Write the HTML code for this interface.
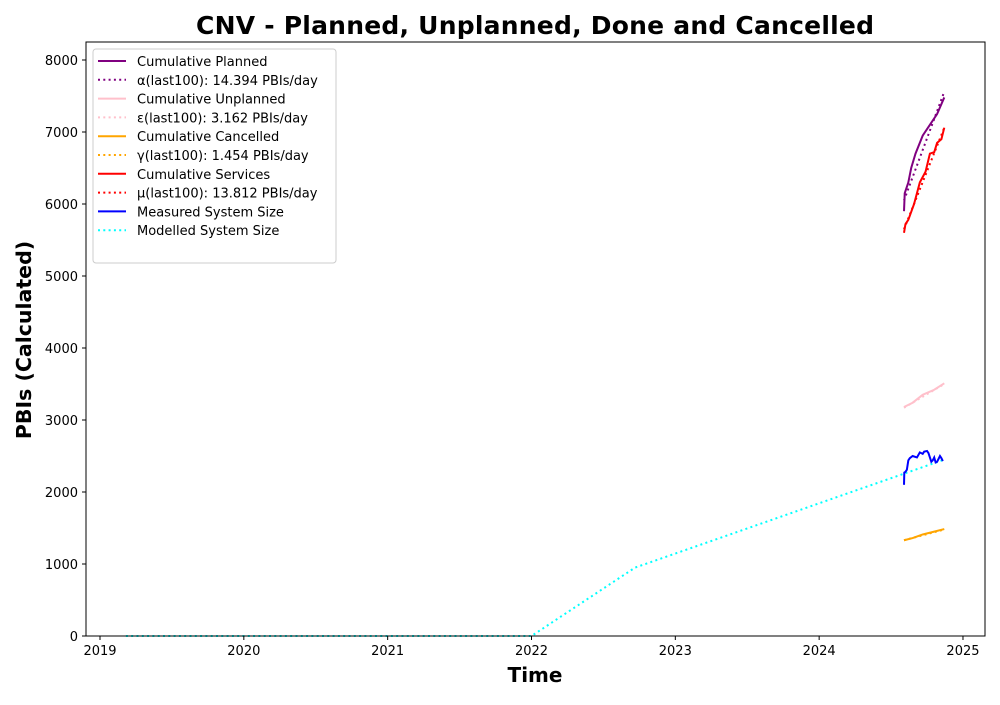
<!DOCTYPE html>
<html><head><meta charset="utf-8"><style>
body{margin:0;background:#fff;font-family:"Liberation Sans","DejaVu Sans",sans-serif}
svg text{font-family:"DejaVu Sans","Liberation Sans",sans-serif}
</style></head><body>
<svg id="c" width="1000" height="700" xmlns="http://www.w3.org/2000/svg">
<rect width="1000" height="700" fill="#fff"/>
<text x="535" y="34" font-size="25" font-weight="bold" text-anchor="middle" textLength="678">CNV - Planned, Unplanned, Done  and Cancelled</text>
<text x="535" y="682" font-size="20" font-weight="bold" text-anchor="middle">Time</text>
<text transform="translate(31,340) rotate(-90)" font-size="20.5" font-weight="bold" text-anchor="middle">PBIs (Calculated)</text>
<g id="marks"></g>
<rect x="86" y="42" width="899" height="594" fill="none" stroke="#000" stroke-width="1"/>
<g id="axes"></g>
<g id="legend"></g>
</svg>
<script>
const xTicks=[2019,2020,2021,2022,2023,2024,2025];
const yTicks=[0,1000,2000,3000,4000,5000,6000,7000,8000];
const plannedT=[2024.59,2024.595,2024.62,2024.64,2024.67,2024.72,2024.77,2024.82,2024.87];
const plannedV=[5900,6150,6300,6500,6700,6950,7100,7250,7480];
const alphaT=[2024.59,2024.87];
const alphaV=[6050,7560];
const unplannedT=[2024.59,2024.65,2024.72,2024.8,2024.87];
const unplannedV=[3180,3240,3350,3420,3510];
const epsT=[2024.59,2024.87];
const epsV=[3170,3500];
const cancelledT=[2024.59,2024.65,2024.72,2024.8,2024.87];
const cancelledV=[1330,1360,1410,1450,1485];
const gammaT=[2024.59,2024.87];
const gammaV=[1330,1480];
const servicesT=[2024.59,2024.6,2024.62,2024.66,2024.7,2024.74,2024.77,2024.8,2024.82,2024.85,2024.87];
const servicesV=[5600,5720,5780,6000,6300,6450,6700,6720,6850,6900,7060];
const muT=[2024.59,2024.87];
const muV=[5650,7060];
const measuredT=[2024.59,2024.592,2024.6,2024.61,2024.62,2024.63,2024.65,2024.68,2024.7,2024.72,2024.73,2024.75,2024.76,2024.78,2024.79,2024.8,2024.81,2024.82,2024.84,2024.85,2024.86];
const measuredV=[2100,2270,2280,2310,2440,2470,2500,2480,2550,2530,2560,2570,2540,2420,2440,2480,2410,2420,2500,2470,2430];
const modelT=[2019.18,2022.0,2022.72,2024.87];
const modelV=[0,0,950,2450];
const X=t=>100+(t-2019)*143.83, Y=v=>636-v*0.072;
const NS="http://www.w3.org/2000/svg";
const marks=document.getElementById('marks'),axes=document.getElementById('axes'),leg=document.getElementById('legend');
function mk(tag,attrs,parent){const e=document.createElementNS(NS,tag);for(const k in attrs)e.setAttribute(k,attrs[k]);parent.appendChild(e);return e;}
function line(T,V,color,dotted,name){
 const p=mk('polyline',{points:T.map((t,i)=>X(t)+','+Y(V[i])).join(' '),fill:'none',stroke:color,'stroke-width':2,'stroke-dasharray':dotted?'2,3.3':'none'},marks);
 
 
}
line(modelT,modelV,'#00ffff',true,'modelled-system-size-line');
line(plannedT,plannedV,'#800080',false,'cumulative-planned-line');
line(alphaT,alphaV,'#800080',true,'alpha-fit-line');
line(unplannedT,unplannedV,'#ffc0cb',false,'cumulative-unplanned-line');
line(epsT,epsV,'#ffc0cb',true,'epsilon-fit-line');
line(cancelledT,cancelledV,'#ffa500',false,'cumulative-cancelled-line');
line(gammaT,gammaV,'#ffa500',true,'gamma-fit-line');
line(servicesT,servicesV,'#ff0000',false,'cumulative-services-line');
line(muT,muV,'#ff0000',true,'mu-fit-line');
line(measuredT,measuredV,'#0000ff',false,'measured-system-size-line');
xTicks.forEach(t=>{const x=X(t);mk('line',{x1:x,x2:x,y1:636,y2:640,stroke:'#000'},axes);
 const tx=mk('text',{x:x,y:655,'font-size':13,'text-anchor':'middle'},axes);tx.textContent=t;
 
 });
yTicks.forEach(v=>{const y=Y(v);mk('line',{x1:82,x2:86,y1:y,y2:y,stroke:'#000'},axes);
 const tx=mk('text',{x:78,y:y+5,'font-size':13,'text-anchor':'end'},axes);tx.textContent=v;
 
 });
const legNames=['Cumulative Planned','α(last100): 14.394 PBIs/day','Cumulative Unplanned','ε(last100): 3.162 PBIs/day','Cumulative Cancelled','γ(last100): 1.454 PBIs/day','Cumulative Services','μ(last100): 13.812 PBIs/day','Measured System Size','Modelled System Size'];
const legColors=['#800080','#800080','#ffc0cb','#ffc0cb','#ffa500','#ffa500','#ff0000','#ff0000','#0000ff','#00ffff'];
const legDotted=[false,true,false,true,false,true,false,true,false,true];
const lb=mk('rect',{x:93,y:49,width:243,height:214,rx:3,fill:'#fff',stroke:'#ccc','fill-opacity':0.8},leg);


legNames.forEach((n,i)=>{const y=61+i*18.8;
 mk('line',{x1:98,x2:126,y1:y,y2:y,stroke:legColors[i],'stroke-width':2,'stroke-dasharray':legDotted[i]?'2,3.3':'none'},leg);
 const tx=mk('text',{x:137,y:y+5,'font-size':13},leg);tx.textContent=n;
 
 });
</script>
</body></html>
